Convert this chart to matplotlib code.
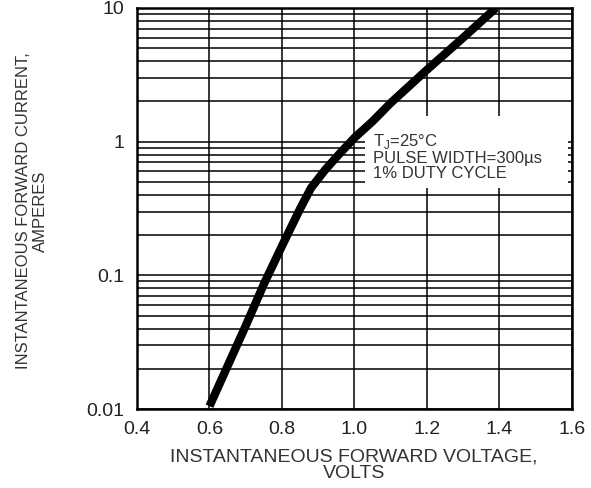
import matplotlib
matplotlib.use("Agg")
import matplotlib.pyplot as plt
from matplotlib.patches import Rectangle
from matplotlib.ticker import FixedLocator, FixedFormatter, LogLocator, NullFormatter

plt.rcParams['font.family'] = ['Liberation Sans', 'DejaVu Sans']

# forward voltage (V) vs forward current (A)
volts = [0.6, 0.65, 0.7, 0.75, 0.8, 0.85, 0.88, 0.92, 0.96, 1.0, 1.05, 1.1, 1.2, 1.3, 1.39]
amps = [0.0105, 0.021, 0.042, 0.086, 0.166, 0.315, 0.45, 0.62, 0.82, 1.07, 1.42, 1.95, 3.45, 6.0, 10.0]

xticks = [0.4, 0.6, 0.8, 1.0, 1.2, 1.4, 1.6]
xticklabels = ["0.4", "0.6", "0.8", "1.0", "1.2", "1.4", "1.6"]
yticks = [0.01, 0.1, 1, 10]
yticklabels = ["0.01", "0.1", "1", "10"]

note = "T$_\\mathregular{J}$=25\u00b0C\nPULSE WIDTH=300\u00b5s\n1% DUTY CYCLE"

fig = plt.figure(figsize=(5.91, 4.88), dpi=100)
ax = fig.add_axes([137 / 591, 1 - 409 / 488, 435 / 591, 401 / 488])

ax.set_yscale("log")
ax.set_xlim(0.4, 1.6)
ax.set_ylim(0.01, 10)

ax.xaxis.set_major_locator(FixedLocator(xticks))
ax.xaxis.set_major_formatter(FixedFormatter(xticklabels))
ax.yaxis.set_major_locator(FixedLocator(yticks))
ax.yaxis.set_major_formatter(FixedFormatter(yticklabels))
ax.yaxis.set_minor_locator(LogLocator(base=10, subs=range(2, 10)))
ax.yaxis.set_minor_formatter(NullFormatter())

ax.grid(True, which="both", color="black", linewidth=1.1)
ax.set_axisbelow(True)
ax.tick_params(which="both", length=0, labelsize=14, colors="#222222")
ax.tick_params(axis="x", pad=9)
ax.tick_params(axis="y", pad=9)
for sp in ax.spines.values():
    sp.set_linewidth(1.8)

# white box behind the test conditions note
ax.add_patch(Rectangle((0.524, 0.552), 0.467, 0.178, transform=ax.transAxes,
                       facecolor="white", edgecolor="none", zorder=1.5))
ax.text(0.543, 0.69, note, transform=ax.transAxes, ha="left", va="top",
        fontsize=12, color="#333333", linespacing=1.0, zorder=3)

ax.plot(volts, amps, color="black", linewidth=6, solid_capstyle="butt",
        solid_joinstyle="round", zorder=4)

fig.text(354 / 591, 1 - 465 / 488, "INSTANTANEOUS FORWARD VOLTAGE,\nVOLTS",
         ha="center", va="center", fontsize=14, color="#333333", linespacing=1.0)
fig.text(32 / 591, 1 - 211 / 488, "INSTANTANEOUS FORWARD CURRENT,\nAMPERES",
         ha="center", va="center", rotation=90, fontsize=12, color="#333333",
         linespacing=1.1, multialignment="center")

fig.savefig("out.png", dpi=100)
